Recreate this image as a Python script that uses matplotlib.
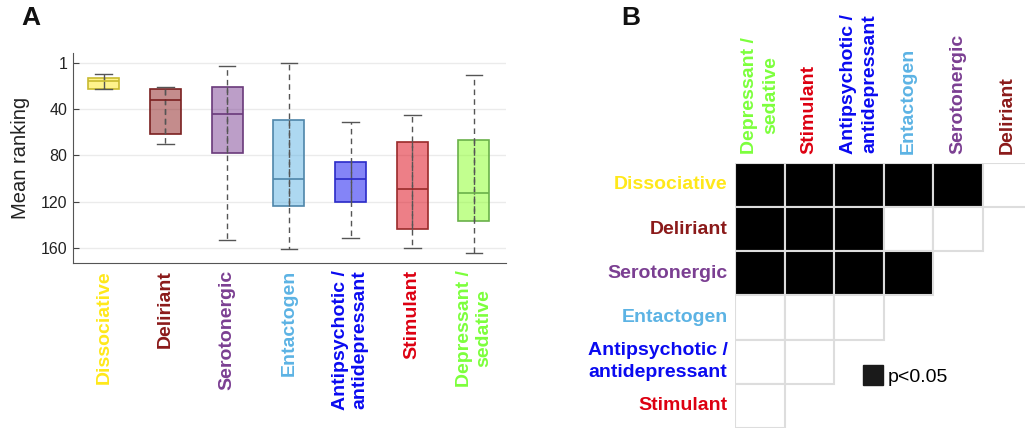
#!/usr/bin/env python3

import matplotlib
matplotlib.use('Agg')
import matplotlib.pyplot as plt
from matplotlib.patches import Rectangle
from matplotlib.lines import Line2D

plt.rcParams['font.family'] = ['Liberation Sans', 'DejaVu Sans']

# panel A: drug classes and box statistics (mean ranking, 1 = top)
classes = ['Dissociative', 'Deliriant', 'Serotonergic', 'Entactogen',
           'Antipsychotic /\nantidepressant', 'Stimulant', 'Depressant /\nsedative']
text_colors = ['#FFE81A', '#8B1A1A', '#7B3F92', '#5CB3E4',
               '#0A0AF0', '#DD0011', '#7CFF3C']
fill_colors = ['#FFE81A', '#8B1A1A', '#7B3F92', '#5CB3E4',
               '#0A0AF0', '#DD0011', '#86FF20']
edge_colors = ['#C8BA30', '#7A2020', '#6A3A7A', '#4F86AA',
               '#2A2AC8', '#9A2A2A', '#6AB04A']
whis_hi = [9.8, 21.0, 3.0, 1.0, 50.9, 45.7, 11.0]
q1 = [13.8, 23.2, 21.2, 49.7, 85.4, 68.5, 67.1]
med = [16.1, 32.6, 44.6, 99.9, 100.5, 108.7, 112.1]
q3 = [23.2, 62.0, 78.0, 123.8, 120.4, 142.9, 136.4]
whis_lo = [23.2, 70.5, 152.9, 160.6, 150.9, 160.0, 164.0]
yticks = [1, 40, 80, 120, 160]

# panel B: pairwise significance (1 = p<0.05, 0 = n.s.)
col_labels = ['Depressant /\nsedative', 'Stimulant', 'Antipsychotic /\nantidepressant',
              'Entactogen', 'Serotonergic', 'Deliriant']
col_colors = ['#7CFF3C', '#DD0011', '#0A0AF0', '#5CB3E4', '#7B3F92', '#8B1A1A']
row_labels = ['Dissociative', 'Deliriant', 'Serotonergic', 'Entactogen',
              'Antipsychotic /\nantidepressant', 'Stimulant']
row_colors = ['#FFE81A', '#8B1A1A', '#7B3F92', '#5CB3E4', '#0A0AF0', '#DD0011']
signif = [[1, 1, 1, 1, 1, 0],
          [1, 1, 1, 0, 0],
          [1, 1, 1, 1],
          [0, 0, 0],
          [0, 0],
          [0]]

fig = plt.figure(figsize=(10.25, 4.28), dpi=100)

# ---- Panel A ----
ax = fig.add_axes([0.0712, 0.3855, 0.4224, 0.4907])
stats = []
for i in range(len(classes)):
    stats.append(dict(med=med[i], q1=q1[i], q3=q3[i],
                      whislo=whis_lo[i], whishi=whis_hi[i], fliers=[]))
bp = ax.bxp(stats, positions=range(1, len(classes) + 1), widths=0.5,
            patch_artist=True, showfliers=False, capwidths=0.27,
            whiskerprops=dict(color='#555555', linestyle=(0, (4, 3)), linewidth=1),
            capprops=dict(color='#555555', linewidth=1))
for i, box in enumerate(bp['boxes']):
    box.set_facecolor(matplotlib.colors.to_rgba(fill_colors[i], 0.5))
    box.set_edgecolor(edge_colors[i])
    box.set_linewidth(1.2)
    bp['medians'][i].set_color(edge_colors[i])
    bp['medians'][i].set_linewidth(1.2)

ax.set_xlim(0.5, 7.52)
ax.set_ylim(172.5, -8)
ax.set_yticks(yticks)
ax.tick_params(axis='y', direction='in', length=4, labelsize=11.5,
               color='#444444', labelcolor='#222222', pad=4)
ax.tick_params(axis='x', length=0, pad=5)
ax.set_xticks(range(1, len(classes) + 1))
ax.set_xticklabels(classes, rotation=90, fontsize=14, fontweight='bold',
                   va='top', ha='center', multialignment='center')
for lbl, c in zip(ax.get_xticklabels(), text_colors):
    lbl.set_color(c)
ax.set_ylabel('Mean ranking', fontsize=14.5, color='#222222', labelpad=8)
ax.grid(True, axis='y', color='#ebebeb', linewidth=1)
ax.set_axisbelow(True)
for s in ['top', 'right']:
    ax.spines[s].set_visible(False)
for s in ['left', 'bottom']:
    ax.spines[s].set_color('#555555')

fig.text(0.021, 0.958, 'A', fontsize=19, fontweight='bold', va='center', color='#111111')
fig.text(0.606, 0.958, 'B', fontsize=19, fontweight='bold', va='center', color='#111111')

# ---- Panel B ----
axb = fig.add_axes([0.7171, 0.0, 0.2898, 0.6199])
axb.set_xlim(0, 6)
axb.set_ylim(6, 0)
axb.axis('off')
for r, row in enumerate(signif):
    for c, v in enumerate(row):
        axb.add_patch(Rectangle((c, r), 1, 1,
                                facecolor='black' if v else 'white',
                                edgecolor='#dddddd', linewidth=1.5))
for r, (lab, col) in enumerate(zip(row_labels, row_colors)):
    axb.text(-0.15, r + 0.5, lab, ha='right', va='center', fontsize=14,
             fontweight='bold', color=col, multialignment='right',
             linespacing=1.35)
for c, (lab, col) in enumerate(zip(col_labels, col_colors)):
    axb.text(c + 0.5, -0.2, lab, ha='center', va='bottom', rotation=90,
             fontsize=14, fontweight='bold', color=col,
             multialignment='center', linespacing=1.35)

handle = Line2D([], [], marker='s', linestyle='none', markersize=14.5,
                markerfacecolor='#1a1a1a', markeredgecolor='#1a1a1a')
fig.legend([handle], ['p<0.05'], loc='center left',
           bbox_to_anchor=(0.843, 0.119), frameon=False, fontsize=14,
           handlelength=0.95, handletextpad=0.25, borderpad=0, borderaxespad=0)

fig.savefig('out.png', dpi=100)
